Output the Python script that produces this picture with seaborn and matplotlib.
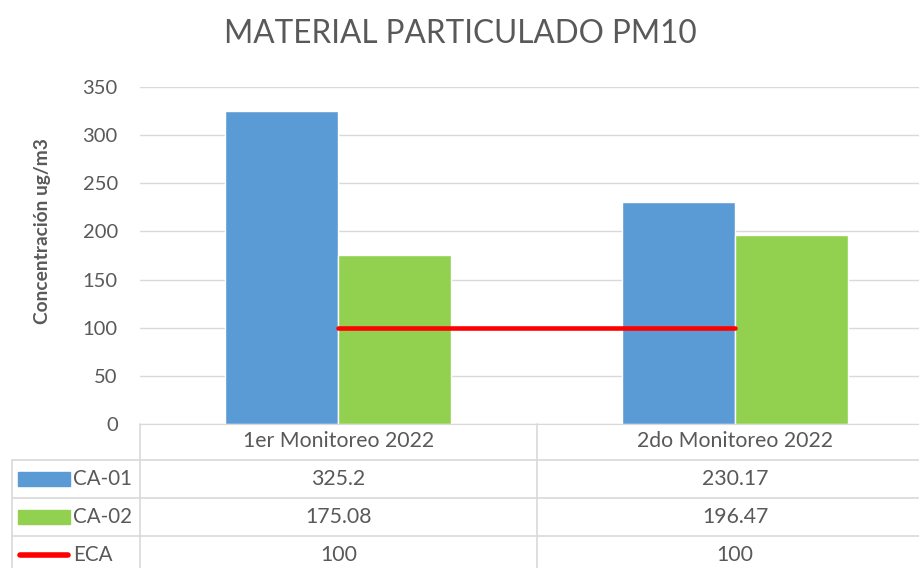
import numpy as np
import pandas as pd
import seaborn as sns
import matplotlib.pyplot as plt
from matplotlib.transforms import blended_transform_factory
from matplotlib.lines import Line2D
from matplotlib.patches import Rectangle

categories = ["1er Monitoreo 2022", "2do Monitoreo 2022"]
series = ["CA-01", "CA-02"]
ca01 = [325.2, 230.17]
ca02 = [175.08, 196.47]
eca = [100, 100]
ca01_labels = ["325.2", "230.17"]
ca02_labels = ["175.08", "196.47"]
eca_labels = ["100", "100"]

colors = {"CA-01": "#5B9BD5", "CA-02": "#92D050"}
eca_color = "#FF0000"
gray = "#595959"
grid_gray = "#D9D9D9"

df = pd.DataFrame({
    "Monitoreo": categories * 2,
    "Serie": [series[0]] * len(categories) + [series[1]] * len(categories),
    "Valor": ca01 + ca02,
})

sns.set_style("white")
plt.rcParams["font.family"] = ["Lato", "DejaVu Sans"]

W, H = 920, 568
fig = plt.figure(figsize=(W / 100, H / 100), dpi=100)


def fx(px):
    return px / W


def fy(py):
    return 1 - py / H


# plot area (right edge runs off the picture like the original)
ax = fig.add_axes([fx(140), fy(424), fx(933.5) - fx(140), fy(87) - fy(424)])
sns.barplot(data=df, x="Monitoreo", y="Valor", hue="Serie", palette=colors,
            width=0.57, saturation=1, legend=False, ax=ax, zorder=2)
ax.plot(range(len(categories)), eca, color=eca_color, lw=3.3,
        solid_capstyle="round", zorder=4)

ax.set_xlim(-0.5, 1.5)
ax.set_ylim(0, 350)
ax.set_yticks(range(0, 351, 50))
ax.grid(axis="y", color=grid_gray, lw=1)
ax.set_axisbelow(True)
for s in ["top", "right", "left"]:
    ax.spines[s].set_visible(False)
ax.spines["bottom"].set_color(grid_gray)
ax.tick_params(axis="y", length=0, labelsize=14.5, labelcolor=gray, pad=16)
ax.set_xticks([])
ax.set_xlabel("")
ax.set_ylabel("Concentración ug/m3", fontsize=13.8, fontweight="bold", color=gray)
ax.yaxis.set_label_coords((51 - 140) / (933.5 - 140), (424 - 231) / 337)

fig.text(0.5, fy(34), "MATERIAL PARTICULADO PM10", ha="center", va="center",
         fontsize=22.7, color=gray)

# data table under the axis
bt = blended_transform_factory(ax.transData, fig.transFigure)
row_edges = [424, 460, 498, 536, 590]
line_kw = dict(color=grid_gray, lw=1.2, clip_on=False)

for y in row_edges[1:4]:
    fig.add_artist(Line2D([fx(12), 1], [fy(y), fy(y)], transform=fig.transFigure, **line_kw))
fig.add_artist(Line2D([fx(12), fx(12)], [fy(460), 0], transform=fig.transFigure, **line_kw))
fig.add_artist(Line2D([fx(140), fx(140)], [fy(424), 0], transform=fig.transFigure, **line_kw))
for i in range(len(categories) - 1):
    fig.add_artist(Line2D([i + 0.5, i + 0.5], [fy(424), 0], transform=bt, **line_kw))

rows = [categories, ca01_labels, ca02_labels, eca_labels]
row_text_y = [441, 479, 517, 555]
for vals, yc in zip(rows, row_text_y):
    for i, v in enumerate(vals):
        ax.text(i, fy(yc), v, transform=bt, ha="center", va="center",
                fontsize=15.3, color=gray, clip_on=False)

# row headers with legend keys
row_names = [series[0], series[1], "ECA"]
for name, yc in zip(row_names, row_text_y[1:]):
    if name in colors:
        fig.add_artist(Rectangle((fx(18), fy(yc + 7)), fx(52), 14 / H,
                                 transform=fig.transFigure, color=colors[name]))
    else:
        fig.add_artist(Line2D([fx(20), fx(68)], [fy(yc), fy(yc)], transform=fig.transFigure,
                              color=eca_color, lw=4, solid_capstyle="round"))
    fig.text(fx(73), fy(yc), name, ha="left", va="center", fontsize=14.8, color=gray)

fig.savefig("out.png", dpi=100)
